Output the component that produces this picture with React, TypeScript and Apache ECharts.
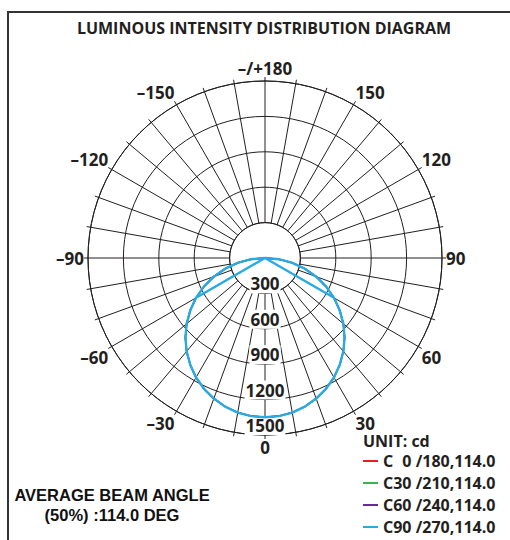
import React, { useEffect, useRef } from "react";
import * as echarts from "echarts";

// gamma angles (deg from nadir) and intensity readings (cd), symmetric planes
const gammaAngles = [0, 5, 10, 15, 20, 25, 30, 35, 40, 45, 50, 55, 60, 65, 70, 75, 80, 85, 90];
const intensityValues = [1350, 1345, 1330, 1304, 1268, 1223, 1169, 1105, 1033, 954, 867, 773, 675, 570, 462, 349, 235, 118, 0];
const cutGamma = 60;

const seriesNames = ["C\u20070 /180,114.0", "C30 /210,114.0", "C60 /240,114.0", "C90 /270,114.0"];
const seriesColors = ["#ed1c24", "#39b54a", "#662d91", "#29abe2"];

const radiusTicks = [300, 600, 900, 1200, 1500];
const angleLabelStep = 30;

const INK = "#231f20";
const FONT = "'Open Sans', 'Noto Sans', sans-serif";
const FONT2 = "'Liberation Sans', Arial, sans-serif";

function circlePath(): [number, number][] {
  const pts: [number, number][] = [];
  for (let i = gammaAngles.length - 1; i >= 0; i--) {
    pts.push([intensityValues[i], (360 - gammaAngles[i]) % 360]);
  }
  for (let i = 1; i < gammaAngles.length; i++) {
    pts.push([intensityValues[i], gammaAngles[i]]);
  }
  return pts;
}

function cutPath(): [number, number][] {
  const k = gammaAngles.indexOf(cutGamma);
  const v = intensityValues[k];
  const body = circlePath();
  return [[v, 360 - cutGamma], ...body, [v, cutGamma]];
}

export default function App() {
  const ref = useRef<HTMLDivElement>(null);
  useEffect(() => {
    if (!ref.current) return;
    const chart = echarts.init(ref.current, null, { renderer: "svg" });
    const cx = 265;
    const cy = 258;
    const rOuter = 177;
    const rInner = (radiusTicks[0] / radiusTicks[radiusTicks.length - 1]) * rOuter;
    const lineStyle = { color: INK, width: 1 };

    const series: any[] = seriesNames.map((name, i) => ({
      name,
      type: "line",
      coordinateSystem: "polar",
      polarIndex: 1,
      showSymbol: false,
      symbol: "none",
      color: seriesColors[i],
      lineStyle: { color: seriesColors[i], width: i === 3 ? 2.4 : 1.5 },
      data: i === 3 ? cutPath() : circlePath(),
      z: 3 + i,
    }));

    chart.setOption({
      animation: false,
      backgroundColor: "#ffffff",
      polar: [
        { center: [cx, cy], radius: [rInner, rOuter] },
        { center: [cx, cy], radius: rOuter },
      ],
      angleAxis: [
        {
          polarIndex: 0,
          type: "value",
          min: 0,
          max: 360,
          interval: 10,
          startAngle: 270,
          clockwise: false,
          z: 0,
          axisLine: { show: true, lineStyle },
          axisTick: { show: true, length: 4, lineStyle },
          splitLine: { show: true, lineStyle },
          axisLabel: {
            margin: 4,
            fontSize: 17,
            fontWeight: "bold",
            fontFamily: FONT,
            color: INK,
            formatter: (v: number) => {
              if (v % angleLabelStep !== 0 || v === 360) return "";
              if (v === 180) return "\u2013/+180";
              if (v > 180) return "\u2013" + (360 - v);
              return String(v);
            },
          },
        },
        {
          polarIndex: 1,
          type: "value",
          min: 0,
          max: 360,
          startAngle: 270,
          clockwise: false,
          show: false,
        },
      ],
      radiusAxis: [
        {
          polarIndex: 0,
          type: "value",
          min: radiusTicks[0],
          max: radiusTicks[radiusTicks.length - 1],
          interval: radiusTicks[1] - radiusTicks[0],
          z: 1,
          axisLine: { show: false },
          axisTick: { show: false },
          splitLine: { show: true, lineStyle },
          axisLabel: {
            show: true,
            showMinLabel: true,
            showMaxLabel: true,
            margin: 0,
            align: "center",
            verticalAlign: "bottom",
            fontSize: 17,
            fontWeight: "bold",
            fontFamily: FONT,
            color: INK,
            lineHeight: 19,
            backgroundColor: "#ffffff",
            padding: [0, 1, 0, 1],
            formatter: (v: number) => String(v),
          },
        },
        {
          polarIndex: 1,
          type: "value",
          min: 0,
          max: radiusTicks[radiusTicks.length - 1],
          show: false,
        },
      ],
      legend: {
        orient: "vertical",
        left: 363,
        top: 453,
        padding: 0,
        itemGap: 6,
        itemWidth: 15,
        itemHeight: 2,
        icon: "rect",
        selectedMode: false,
        data: seriesNames,
        textStyle: {
          fontSize: 16,
          fontWeight: "bold",
          fontFamily: FONT,
          color: INK,
          lineHeight: 16,
        },
      },
      graphic: [
        {
          type: "rect",
          shape: { x: 8, y: 12, width: 520, height: 560 },
          style: { fill: "none", stroke: "#333333", lineWidth: 2 },
          z: 0,
        },
        {
          type: "text",
          x: 377,
          y: -9,
          style: {
            text: "g",
            fontSize: 36,
            fontWeight: "bold",
            fontFamily: FONT,
            fill: INK,
            verticalAlign: "bottom",
          },
        },
        {
          type: "text",
          x: 264,
          y: 28,
          style: {
            text: "LUMINOUS INTENSITY DISTRIBUTION DIAGRAM",
            fontSize: 16,
            fontWeight: "bold",
            fontFamily: FONT,
            fill: INK,
            align: "center",
            verticalAlign: "middle",
          },
        },
        {
          type: "text",
          x: 363,
          y: 441,
          style: {
            text: "UNIT: cd",
            fontSize: 16,
            fontWeight: "bold",
            fontFamily: FONT,
            fill: INK,
            verticalAlign: "middle",
          },
        },
        {
          type: "text",
          x: 112,
          y: 495,
          style: {
            text: "AVERAGE BEAM ANGLE",
            fontSize: 16.5,
            fontWeight: "bold",
            fontFamily: FONT2,
            fill: "#111111",
            align: "center",
            verticalAlign: "middle",
          },
        },
        {
          type: "text",
          x: 112,
          y: 515,
          style: {
            text: "(50%) :114.0 DEG",
            fontSize: 16.5,
            fontWeight: "bold",
            fontFamily: FONT2,
            fill: "#111111",
            align: "center",
            verticalAlign: "middle",
          },
        },
      ],
      series,
    });
    return () => chart.dispose();
  }, []);
  return (
    <div
      ref={ref}
      style={{ position: "fixed", left: 0, top: 0, width: 510, height: 540 }}
    />
  );
}
